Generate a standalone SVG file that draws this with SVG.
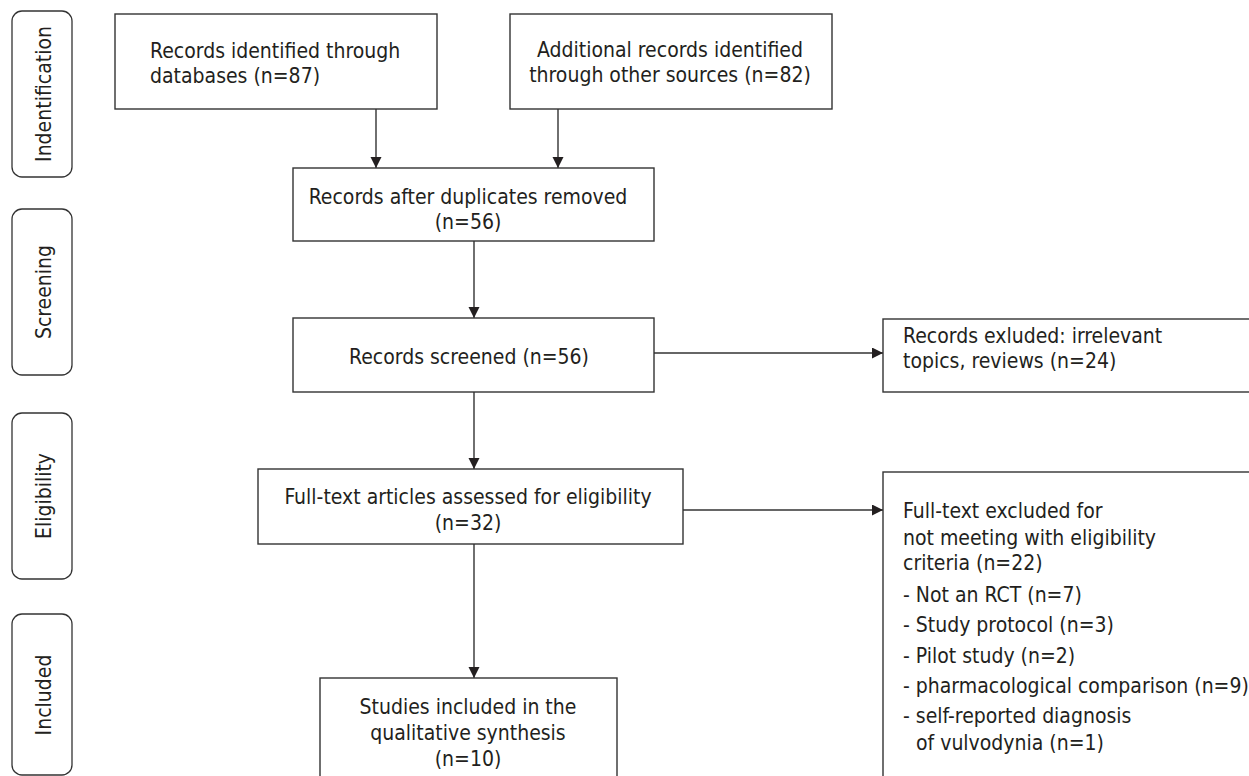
<svg xmlns="http://www.w3.org/2000/svg" width="1249" height="776" viewBox="0 0 1249 776">
<defs>
<style>
.box{fill:#fff;stroke:#333;stroke-width:1.4}
.phase{fill:#fff;stroke:#333;stroke-width:1.3}
.t{font-family:"DejaVu Sans Condensed","DejaVu Sans",sans-serif;font-size:21px;fill:#231f20}
.c{text-anchor:middle}
.conn{stroke:#333;stroke-width:1.4;fill:none;marker-end:url(#ah)}
</style>
<marker id="ah" markerUnits="userSpaceOnUse" markerWidth="12" markerHeight="12" refX="11" refY="5.5" orient="auto">
<path d="M0,0 L11,5.5 L0,11 z" fill="#231f20"/>
</marker>
</defs>
<rect width="1249" height="776" fill="#fff"/>

<g id="phase-identification">
<rect class="phase" x="12" y="11" width="60" height="166" rx="10"/>
<text class="t c" transform="translate(51,94) rotate(-90)">Indentification</text>
</g>
<g id="phase-screening">
<rect class="phase" x="12" y="209" width="60" height="166" rx="10"/>
<text class="t c" transform="translate(51,292) rotate(-90)">Screening</text>
</g>
<g id="phase-eligibility">
<rect class="phase" x="12" y="413" width="60" height="166" rx="10"/>
<text class="t c" transform="translate(51,496) rotate(-90)">Eligibility</text>
</g>
<g id="phase-included">
<rect class="phase" x="12" y="614" width="60" height="161" rx="10"/>
<text class="t c" transform="translate(51,695) rotate(-90)">Included</text>
</g>

<g id="connectors">
<line class="conn" x1="376" y1="109" x2="376" y2="168"/>
<line class="conn" x1="558" y1="109" x2="558" y2="168"/>
<line class="conn" x1="474" y1="241" x2="474" y2="318"/>
<line class="conn" x1="474" y1="392" x2="474" y2="469"/>
<line class="conn" x1="474" y1="544" x2="474" y2="678"/>
<line class="conn" x1="654" y1="353" x2="883" y2="353"/>
<line class="conn" x1="683" y1="510" x2="883" y2="510"/>
</g>

<g id="node-databases">
<rect class="box" x="115" y="14" width="322" height="95"/>
<text class="t" x="150" y="58">Records identified through</text>
<text class="t" x="150" y="83">databases (n=87)</text>
</g>
<g id="node-other-sources">
<rect class="box" x="510" y="14" width="322" height="95"/>
<text class="t c" x="670" y="57">Additional records identified</text>
<text class="t c" x="670" y="82">through other sources (n=82)</text>
</g>
<g id="node-duplicates-removed">
<rect class="box" x="293" y="168" width="361" height="73"/>
<text class="t c" x="468" y="204">Records after duplicates removed</text>
<text class="t c" x="468" y="229">(n=56)</text>
</g>
<g id="node-screened">
<rect class="box" x="293" y="318" width="361" height="74"/>
<text class="t c" x="469" y="364">Records screened (n=56)</text>
</g>
<g id="node-records-excluded">
<rect class="box" x="883" y="319" width="380" height="73"/>
<text class="t" x="903" y="343">Records exluded: irrelevant</text>
<text class="t" x="903" y="368">topics, reviews (n=24)</text>
</g>
<g id="node-full-text">
<rect class="box" x="258" y="469" width="425" height="75"/>
<text class="t c" x="468" y="504">Full-text articles assessed for eligibility</text>
<text class="t c" x="468" y="530">(n=32)</text>
</g>
<g id="node-full-text-excluded">
<rect class="box" x="883" y="472" width="380" height="320"/>
<text class="t" x="903" y="518">Full-text excluded for</text>
<text class="t" x="903" y="545">not meeting with eligibility</text>
<text class="t" x="903" y="570">criteria (n=22)</text>
<text class="t" x="903" y="602">- Not an RCT (n=7)</text>
<text class="t" x="903" y="632">- Study protocol (n=3)</text>
<text class="t" x="903" y="663">- Pilot study (n=2)</text>
<text class="t" x="903" y="693">- pharmacological comparison (n=9)</text>
<text class="t" x="903" y="723">- self-reported diagnosis</text>
<text class="t" x="916" y="750">of vulvodynia (n=1)</text>
</g>
<g id="node-included">
<rect class="box" x="320" y="678" width="297" height="120"/>
<text class="t c" x="468" y="714">Studies included in the</text>
<text class="t c" x="468" y="740">qualitative synthesis</text>
<text class="t c" x="468" y="766">(n=10)</text>
</g>
</svg>
